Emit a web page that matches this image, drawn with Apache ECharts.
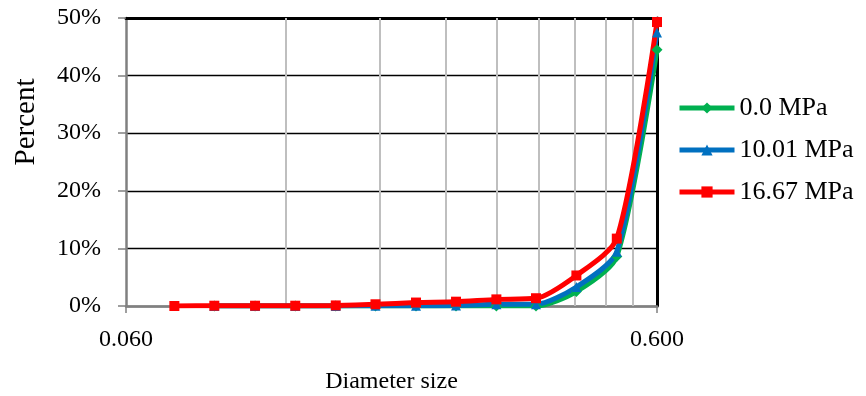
<!DOCTYPE html>
<html>
<head>
<meta charset="utf-8">
<script src="https://cdn.jsdelivr.net/npm/echarts@6/dist/echarts.min.js"></script>
<style>
  html, body { margin: 0; padding: 0; background: #ffffff; }
  #chart { width: 866px; height: 396px; }
</style>
</head>
<body>
<div id="chart"></div>
<script>
// Particle diameter (log scale) and cumulative percent passing at each pressure
const diameters = [0.074, 0.088, 0.105, 0.125, 0.149, 0.177, 0.211, 0.251, 0.299, 0.355, 0.423, 0.504, 0.600];
const green00 = [null, 0, 0, 0, 0, 0, 0, 0, 0, 0, 2.5, 8.6, 44.5];
const blue1001 = [null, 0, 0, 0, 0, 0.05, 0.05, 0.1, 0.3, 0.3, 3.3, 9.4, 47.5];
const red1667 = [0, 0.05, 0.05, 0.05, 0.1, 0.3, 0.6, 0.75, 1.15, 1.35, 5.3, 11.7, 49.3];
const seriesNames = ['0.0 MPa', '10.01 MPa', '16.67 MPa'];
const xTickValues = [0.06, 0.6];
const xMinorGrid = [0.12, 0.18, 0.24, 0.30, 0.36, 0.42, 0.48, 0.54];
const yTicks = [0, 10, 20, 30, 40, 50];

const FONT = "'Liberation Serif', 'Times New Roman', serif";
const pairs = (ys) => diameters.map((d, i) => [d, ys[i]]);

const chart = echarts.init(document.getElementById('chart'), null, { renderer: 'canvas' });

const lineSeries = (name, ys, color, symbol, size) => ({
  name: name,
  type: 'line',
  data: pairs(ys),
  smooth: 0.25,
  connectNulls: false,
  symbol: symbol,
  symbolSize: size,
  lineStyle: { color: color, width: 5 },
  itemStyle: { color: color },
  z: 3
});

chart.setOption({
  animation: false,
  backgroundColor: '#ffffff',
  grid: { left: 126, right: 209, top: 18, bottom: 90, containLabel: false, outerBoundsMode: 'none' },
  legend: {
    data: seriesNames,
    orient: 'vertical',
    left: 677,
    top: 95,
    padding: 0,
    itemWidth: 55,
    itemHeight: 14,
    itemGap: 16,
    lineStyle: { width: 5 },
    textStyle: { fontFamily: FONT, fontSize: 26, color: '#000' }
  },
  xAxis: [{
    type: 'log',
    logBase: 10,
    min: xTickValues[0],
    max: xTickValues[xTickValues.length - 1],
    name: 'Diameter size',
    nameLocation: 'middle',
    nameGap: 64,
    nameMoveOverlap: false,
    nameTextStyle: { fontFamily: FONT, fontSize: 24, color: '#000' },
    axisLine: { show: true, lineStyle: { color: '#808080', width: 2.5 } },
    axisTick: { show: true, customValues: xTickValues, length: 7, lineStyle: { color: '#808080', width: 1.5 } },
    axisLabel: {
      customValues: xTickValues,
      margin: 22,
      fontFamily: FONT, fontSize: 24, color: '#000',
      formatter: (v) => Number(v).toFixed(3)
    },
    splitLine: { show: false },
    minorSplitLine: { show: false }
  }, {
    // top frame edge
    type: 'log',
    logBase: 10,
    position: 'top',
    min: xTickValues[0],
    max: xTickValues[xTickValues.length - 1],
    axisLine: { show: true, onZero: false, lineStyle: { color: '#000', width: 3 } },
    axisTick: { show: false },
    axisLabel: { show: false },
    splitLine: { show: false }
  }],
  yAxis: [{
    type: 'value',
    min: yTicks[0],
    max: yTicks[yTicks.length - 1],
    interval: 10,
    name: 'Percent',
    nameLocation: 'middle',
    nameGap: 85,
    nameMoveOverlap: false,
    nameTextStyle: { fontFamily: FONT, fontSize: 29, color: '#000', padding: [0, 0, 0, 80] },
    axisLine: { show: true, lineStyle: { color: '#808080', width: 2.5 } },
    axisTick: { show: true, inside: false, length: 8, lineStyle: { color: '#808080', width: 1.5 } },
    axisLabel: { margin: 25, fontFamily: FONT, fontSize: 24, color: '#000', formatter: '{value}%' },
    splitLine: { show: true, lineStyle: { color: '#000', width: 1.3 } }
  }, {
    // right frame edge
    type: 'value',
    position: 'right',
    min: yTicks[0],
    max: yTicks[yTicks.length - 1],
    interval: 10,
    axisLine: { show: true, lineStyle: { color: '#000', width: 3 } },
    axisTick: { show: false },
    axisLabel: { show: false },
    splitLine: { show: false }
  }],
  series: [
    {
      // minor vertical gridlines at each multiple of the lower bound
      name: 'minor-grid',
      type: 'line',
      data: [],
      silent: true,
      z: 1,
      markLine: {
        silent: true,
        symbol: 'none',
        z: 1,
        label: { show: false },
        lineStyle: { color: '#bfbfbf', width: 2, type: 'solid' },
        data: xMinorGrid.map((v) => ({ xAxis: v }))
      }
    },
    lineSeries(seriesNames[0], green00, '#00B050', 'diamond', 11),
    lineSeries(seriesNames[1], blue1001, '#0070C0', 'triangle', 10),
    lineSeries(seriesNames[2], red1667, '#FF0000', 'rect', 10)
  ]
});
</script>
</body>
</html>
